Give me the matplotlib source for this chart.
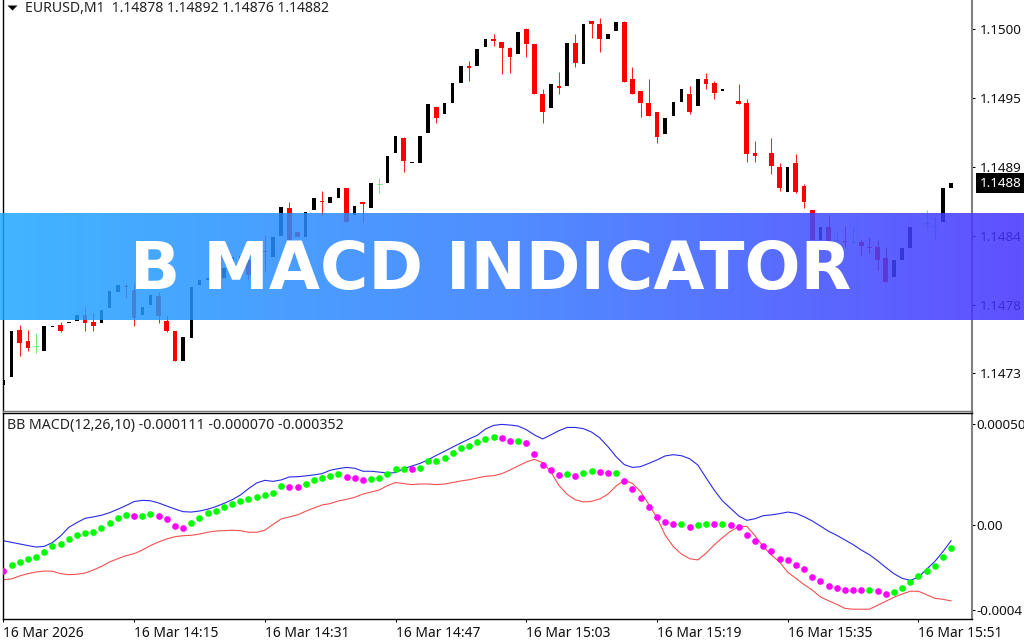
import numpy as np
import matplotlib
matplotlib.use("Agg")
import matplotlib.pyplot as plt
from matplotlib.colors import LinearSegmentedColormap

nan = float("nan")

# prices as points above 1.14 (721 = 1.14721)
opens = [721,727,765,756,752,748,767,769,770,772,
         777,771,770,782,795,800,797,777,785,792,
         772,764,740,758,801,805,806,806,811,815,
         821,810,828,823,840,862,843,839,861,868,
         866,870,878,857,867,862,881,882,906,918,
         898,898,922,943,937,946,962,976,976,991,
         997,995,990,985,1005,993,953,942,960,960,
         994,977,1012,1009,997,1004,1011,965,956,946,
         939,921,936,947,953,944,965,962,956,nan,
         948,946,906,nan,906,895,875,898,880,861,
         837,847,837,836,835,835,831,831,822,807,
         821,830,nan,850,848,851,878]
closes = [725,764,754,750,752,768,768,764,771,777,
          770,768,781,796,801,799,774,783,793,776,
          764,740,759,799,805,806,807,814,823,824,
          809,818,827,839,863,837,839,859,870,867,
          871,878,851,864,865,882,881,904,920,900,
          899,920,945,934,946,962,976,974,989,997,
          996,990,983,1003,993,953,939,961,958,994,
          978,1009,1009,997,1001,1011,963,953,946,936,
          919,934,947,957,939,965,961,954,957,nan,
          945,905,904,nan,896,878,895,875,867,837,
          847,835,837,835,835,832,830,821,803,821,
          830,847,nan,850,848,878,882]
highs = [725,764,769,765,762,768,768,771,771,777,
         783,778,781,796,801,802,802,783,793,795,
         777,764,759,799,805,806,807,814,823,824,
         825,818,841,839,863,867,843,859,870,876,
         871,878,878,864,867,882,886,904,920,919,
         899,920,945,943,946,962,976,980,989,997,
         1001,995,991,1003,1006,993,957,961,971,994,
         1001,1009,1012,1014,1001,1011,1012,975,956,965,
         939,934,947,957,960,965,970,964,957,nan,
         961,949,916,nan,918,898,895,905,881,861,
         847,857,843,848,848,837,839,837,831,821,
         830,847,nan,861,855,878,892]
lows = [721,727,744,748,746,748,767,763,770,772,
        764,764,770,782,795,790,768,777,785,770,
        763,740,740,758,801,805,806,806,811,815,
        805,810,811,823,840,837,839,839,861,857,
        866,870,851,857,851,862,874,882,906,891,
        898,898,922,930,937,946,962,964,976,991,
        992,969,970,985,983,953,930,942,953,960,
        975,977,998,987,997,1004,963,953,935,936,
        914,921,936,947,937,944,957,949,956,nan,
        945,899,899,nan,889,876,875,874,862,837,
        837,835,836,831,835,825,826,813,803,807,
        821,830,nan,845,837,851,876]

# indicator values in millionths
upper = [-78,-86,-94,-102,-109,-106,-87,-54,-12,12,
         33,40,48,61,78,96,116,122,120,109,
         94,79,66,64,69,78,91,107,125,148,
         180,208,221,216,223,238,239,243,248,254,
         271,279,285,281,266,266,262,257,259,279,
         292,305,323,345,365,386,406,426,444,475,
         493,498,495,490,472,446,426,446,467,483,
         483,477,460,431,388,338,299,285,289,305,
         322,342,348,343,328,297,234,173,120,83,
         45,23,31,46,50,56,64,58,41,20,
         -5,-31,-51,-74,-97,-124,-147,-177,-210,-241,
         -264,-274,-259,-219,-181,-132,-78]
lower = [-271,-267,-252,-241,-233,-228,-229,-241,-246,-244,
         -238,-223,-205,-183,-167,-152,-142,-124,-102,-84,
         -69,-58,-53,-51,-45,-36,-30,-28,-26,-28,
         -36,-36,-26,3,30,40,50,68,84,99,
         106,119,127,137,153,163,173,195,210,205,
         200,203,203,200,203,210,218,224,233,241,
         244,254,272,292,312,325,309,264,196,152,
         125,114,117,129,153,193,221,206,165,102,
         36,-50,-107,-144,-167,-173,-140,-99,-63,-31,
         -8,-7,-53,-107,-149,-183,-234,-264,-295,-322,
         -356,-375,-393,-413,-417,-417,-417,-398,-378,-358,
         -342,-328,-328,-345,-363,-368,-376]
macd = [-228,-198,-182,-168,-157,-132,-106,-92,-71,-51,
        -41,-36,-15,10,36,51,45,45,54,45,
        31,-5,-17,10,36,59,69,91,106,120,
        127,140,147,160,191,186,186,203,223,231,
        243,252,238,233,223,228,233,252,277,277,
        276,284,315,318,333,355,380,389,409,424,
        434,429,414,414,404,353,297,272,248,252,
        243,259,267,262,259,259,219,177,132,89,
        41,15,5,5,-8,0,5,5,5,0,
        -8,-51,-81,-106,-130,-167,-173,-196,-218,-257,
        -277,-304,-314,-323,-323,-323,-323,-328,-343,-333,
        -314,-284,-252,-228,-201,-157,-116]
# 1 = lime dot, 0 = magenta dot
dot_up = [0,1,1,1,1,1,1,1,1,1,
          1,1,1,1,1,1,0,1,1,0,
          0,0,0,1,1,1,1,1,1,1,
          1,1,1,1,1,0,0,1,1,1,
          1,1,0,0,0,1,1,1,1,1,
          0,1,1,1,1,1,1,1,1,1,
          1,0,0,1,0,0,0,0,0,1,
          0,1,1,0,0,1,0,0,0,0,
          0,0,0,1,0,1,1,0,1,0,
          0,0,0,0,0,0,0,0,0,0,
          0,0,0,0,0,0,1,0,0,1,
          1,1,1,1,1,1,1]

tick_pos = [0, 16, 32, 48, 64, 80, 96, 112]
tick_labels = ["16 Mar 2026", "16 Mar 14:15", "16 Mar 14:31", "16 Mar 14:47",
               "16 Mar 15:03", "16 Mar 15:19", "16 Mar 15:35", "16 Mar 15:51"]
price_ticks = [1.15005, 1.14950, 1.14895, 1.14840, 1.14785, 1.14730]
price_labels = ["1.1500", "1.1495", "1.1489", "1.1484", "1.1478", "1.1473"]
macd_ticks = [0.00050, 0.0, -0.00042]
macd_labels = ["0.00050", "0.00", "-0.0004"]
last_price = 1.14882

W, H = 1024, 640
plt.rcParams["font.family"] = ["Noto Sans", "DejaVu Sans"]
TICK_FS = 10
Y_FS = 9.7

fig = plt.figure(figsize=(W / 100, H / 100), dpi=100, facecolor="white")


def box(left, top, right, bottom):
    return [left / W, 1 - bottom / H, (right - left) / W, (bottom - top) / H]


ax = fig.add_axes(box(2.7, -2, 972, 411))
sub = fig.add_axes(box(2.7, 413.3, 972, 619.3))

x = np.arange(len(opens))
o = 1.14 + np.array(opens) * 1e-5
c = 1.14 + np.array(closes) * 1e-5
h = 1.14 + np.array(highs) * 1e-5
l = 1.14 + np.array(lows) * 1e-5

up = c > o
down = c < o
flat = c == o

# up bars hide their wicks on this chart
ax.vlines(x[down], l[down], h[down], color="#ff2020", lw=0.75, zorder=2)
ax.vlines(x[flat], l[flat], h[flat], color="#70f070", lw=0.75, zorder=2)
ax.bar(x[up], (c - o)[up], bottom=o[up], width=0.43, color="black", lw=0, zorder=3)
ax.bar(x[down], (c - o)[down], bottom=o[down], width=0.58, color="red", lw=0, zorder=3)
ax.hlines(c[flat], x[flat] - 0.3, x[flat] + 0.3, color="#70f070", lw=0.75, zorder=3)

ax.set_xlim(-0.086, 118.56)
ax.set_ylim(1.14700, 1.15030)
ax.set_xticks([])
ax.yaxis.tick_right()
ax.set_yticks(price_ticks)
ax.set_yticklabels(price_labels, fontsize=Y_FS, color="#111111")
ax.tick_params(axis="y", length=2.2, width=0.75, pad=3.6, color="black")
ax.spines["top"].set_visible(False)
ax.spines["left"].set_linewidth(1.0)
ax.spines["right"].set_color("#808080")
ax.spines["right"].set_linewidth(1.5)
ax.spines["bottom"].set_color("#777777")
ax.spines["bottom"].set_linewidth(1.0)

# current price tag
ax.annotate("1.1488", xy=(1, last_price), xycoords=("axes fraction", "data"),
            xytext=(5.6, 0), textcoords="offset points", va="center", ha="left",
            fontsize=Y_FS, color="white", annotation_clip=False,
            bbox=dict(boxstyle="square,pad=0.28", fc="black", ec="none"))

m = np.array(macd) * 1e-6
sub.plot(x, np.array(upper) * 1e-6, color="#2a2ae6", lw=0.8, zorder=2)
sub.plot(x, np.array(lower) * 1e-6, color="#f55050", lw=0.8, zorder=2)
is_up = np.array(dot_up) == 1
sub.scatter(x[is_up], m[is_up], s=23, color="#00ff00", linewidths=0, zorder=3)
sub.scatter(x[~is_up], m[~is_up], s=23, color="#ff00ff", linewidths=0, zorder=3)

sub.set_xlim(-0.086, 118.56)
sub.set_ylim(-0.000467, 0.000553)
sub.yaxis.tick_right()
sub.set_yticks(macd_ticks)
sub.set_yticklabels(macd_labels, fontsize=Y_FS, color="#111111")
sub.set_xticks(tick_pos)
sub.set_xticklabels(tick_labels, fontsize=TICK_FS, color="#111111", ha="left")
sub.tick_params(axis="y", length=2.2, width=0.75, pad=1.0)
sub.tick_params(axis="x", length=2.5, width=0.75, pad=2.5)
for side in ["left", "top", "bottom"]:
    sub.spines[side].set_linewidth(1.0)
sub.spines["right"].set_color("#808080")
sub.spines["right"].set_linewidth(1.5)

# chart headers
fig.text(25 / W, 1 - 8 / H, "EURUSD,M1  1.14878 1.14892 1.14876 1.14882",
         fontsize=10.1, color="#222222", va="center", ha="left")
fig.text(7 / W, 1 - 426 / H, "BB MACD(12,26,10) -0.000111 -0.000070 -0.000352",
         fontsize=10.2, color="#222222", va="center", ha="left")
ax.scatter([1.0], [1.15023], marker=[(-5, 2), (5, 2), (0, -3)], s=52, color="black",
           linewidths=0, zorder=4, clip_on=False)

# gradient banner across the chart
band = fig.add_axes(box(0, 213.5, W, 320.5))
band.axis("off")
cmap = LinearSegmentedColormap.from_list("band", ["#1ea7ff", "#3178ff", "#4431ff"])
band.imshow(np.linspace(0, 1, 256).reshape(1, -1), aspect="auto", cmap=cmap,
            alpha=0.85, extent=(0, 1, 0, 1))

fig.text(491 / W, 1 - 264 / H, "B MACD INDICATOR", fontsize=47.5, color="white",
         family="DejaVu Sans", weight="bold", ha="center", va="center_baseline", zorder=10)

fig.savefig("out.png", dpi=100)
